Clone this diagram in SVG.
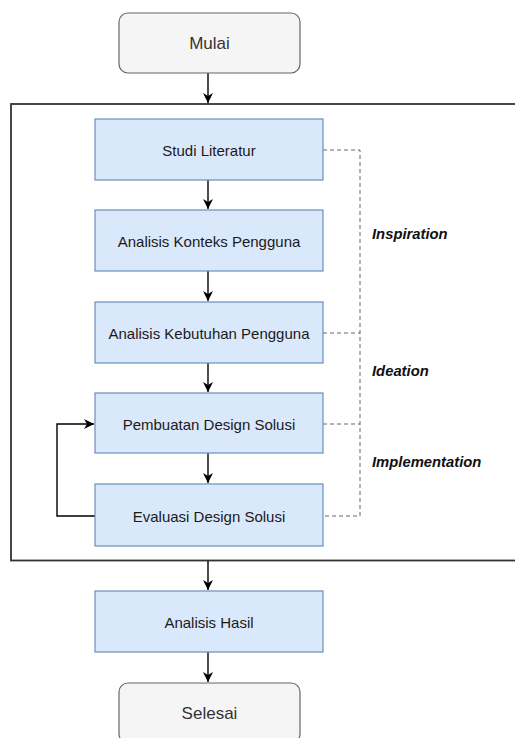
<svg xmlns="http://www.w3.org/2000/svg" width="515" height="738" viewBox="0 0 515 738">
  <style>
    .term { fill: #f5f5f5; stroke: #666666; stroke-width: 1.2; }
    .proc { fill: #dae8fc; stroke: #6c8ebf; stroke-width: 1.2; }
    .frame { fill: none; stroke: #333333; stroke-width: 1.8; }
    .flow { fill: none; stroke: #000000; stroke-width: 1.4; }
    .dash { fill: none; stroke: #666666; stroke-width: 1; stroke-dasharray: 4 3; }
    .lbl { font-family: "Liberation Sans", Arial, Helvetica, sans-serif; text-anchor: middle; dominant-baseline: central; }
    .t-term { font-size: 17px; fill: #333333; }
    .t-proc { font-size: 15px; fill: #1a1a1a; }
    .phase { font-family: "Liberation Sans", Arial, Helvetica, sans-serif; font-size: 14.8px; font-weight: bold; font-style: italic; fill: #111111; dominant-baseline: central; }
  </style>
  <defs>
    <marker id="arrow" viewBox="0 0 10 10" refX="10" refY="5" markerWidth="10" markerHeight="10" markerUnits="userSpaceOnUse" orient="auto">
      <path d="M0,0 L10,5 L0,10 L3,5 Z" fill="#000000"/>
    </marker>
  </defs>
  <rect width="515" height="738" fill="#ffffff"/>

  <!-- outer frame around the design-thinking stages -->
  <rect class="frame" x="11" y="104" width="510" height="456.5"/>

  <g id="connectors">
    <line class="flow" x1="208" y1="73" x2="208" y2="103" marker-end="url(#arrow)"/>
    <line class="flow" x1="208" y1="180" x2="208" y2="209" marker-end="url(#arrow)"/>
    <line class="flow" x1="208" y1="271" x2="208" y2="301" marker-end="url(#arrow)"/>
    <line class="flow" x1="208" y1="363" x2="208" y2="392" marker-end="url(#arrow)"/>
    <line class="flow" x1="208" y1="453" x2="208" y2="483" marker-end="url(#arrow)"/>
    <line class="flow" x1="208" y1="561" x2="208" y2="590" marker-end="url(#arrow)"/>
    <line class="flow" x1="208" y1="652" x2="208" y2="682" marker-end="url(#arrow)"/>
    <!-- feedback loop from evaluation back to design -->
    <polyline class="flow" points="95,516 57,516 57,424 94,424" marker-end="url(#arrow)"/>
    <!-- phase bracket -->
    <polyline class="dash" points="323,150 360,150 360,516 323,516"/>
    <line class="dash" x1="323" y1="333" x2="360" y2="333"/>
    <line class="dash" x1="323" y1="424" x2="360" y2="424"/>
  </g>

  <g id="mulai">
    <rect class="term" x="119" y="13" width="181" height="60" rx="9"/>
    <text class="lbl t-term" x="209.5" y="43">Mulai</text>
  </g>
  <g id="studi-literatur">
    <rect class="proc" x="95" y="119" width="228" height="61"/>
    <text class="lbl t-proc" x="209" y="150">Studi Literatur</text>
  </g>
  <g id="analisis-konteks">
    <rect class="proc" x="95" y="210" width="228" height="61"/>
    <text class="lbl t-proc" x="209" y="241">Analisis Konteks Pengguna</text>
  </g>
  <g id="analisis-kebutuhan">
    <rect class="proc" x="95" y="302" width="228" height="61"/>
    <text class="lbl t-proc" x="209" y="333">Analisis Kebutuhan Pengguna</text>
  </g>
  <g id="pembuatan-design">
    <rect class="proc" x="95" y="393" width="228" height="60"/>
    <text class="lbl t-proc" x="209" y="424">Pembuatan Design Solusi</text>
  </g>
  <g id="evaluasi-design">
    <rect class="proc" x="95" y="484" width="228" height="62"/>
    <text class="lbl t-proc" x="209" y="516">Evaluasi Design Solusi</text>
  </g>
  <g id="analisis-hasil">
    <rect class="proc" x="95" y="591" width="228" height="61"/>
    <text class="lbl t-proc" x="209" y="622">Analisis Hasil</text>
  </g>
  <g id="selesai">
    <rect class="term" x="119" y="683" width="181" height="60" rx="9"/>
    <text class="lbl t-term" x="209.5" y="713">Selesai</text>
  </g>

  <g id="phases">
    <text class="phase" x="372" y="234">Inspiration</text>
    <text class="phase" x="372" y="371">Ideation</text>
    <text class="phase" x="372" y="462">Implementation</text>
  </g>
</svg>
